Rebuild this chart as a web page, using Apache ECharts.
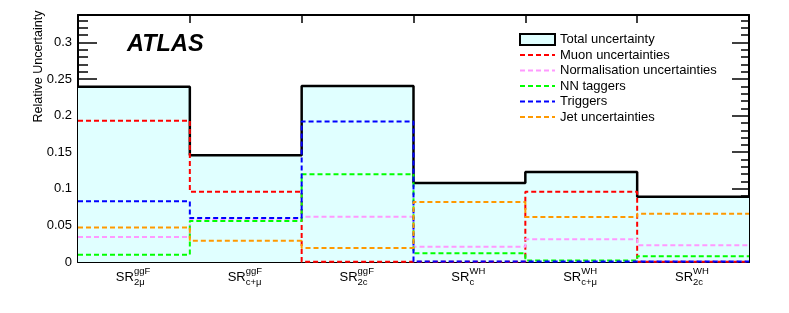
<!DOCTYPE html>
<html>
<head>
<meta charset="utf-8">
<script src="https://cdn.jsdelivr.net/npm/echarts@6/dist/echarts.min.js"></script>
<style>html,body{margin:0;padding:0;background:#fff;}#c{width:789px;height:313px;}</style>
</head>
<body>
<div id="c"></div>
<script>
// ---- data ----
const binBase = ['SR', 'SR', 'SR', 'SR', 'SR', 'SR'];
const binSup = ['ggF', 'ggF', 'ggF', 'WH', 'WH', 'WH'];
const binSub = ['2\u03bc', 'c+\u03bc', '2c', 'c', 'c+\u03bc', '2c'];
const totalUnc = [0.2395, 0.146, 0.2405, 0.108, 0.123, 0.089];
const muonUnc = [0.193, 0.096, 0.0005, 0.0005, 0.096, 0.0005];
const normUnc = [0.034, 0.058, 0.062, 0.021, 0.031, 0.023];
const nnTaggers = [0.010, 0.056, 0.120, 0.012, 0.002, 0.008];
const triggers = [0.083, 0.060, 0.192, 0.0008, 0.0008, 0.0008];
const jetUnc = [0.047, 0.029, 0.019, 0.082, 0.0615, 0.066];
const yTicks = [0, 0.05, 0.1, 0.15, 0.2, 0.25, 0.3];

const FONT = "'Liberation Sans', Arial, Helvetica, sans-serif";

function steps(vals) {
  const pts = vals.map((v, i) => [i, v]);
  pts.push([vals.length, vals[vals.length - 1]]);
  return pts;
}

const dashed = (name, vals, color) => ({
  name, type: 'line', step: 'end', data: steps(vals),
  xAxisIndex: 0, yAxisIndex: 0,
  symbol: 'none', showSymbol: false,
  lineStyle: { color, width: 2, type: [5, 3] },
  itemStyle: { color },
  animation: false
});

const hiddenSym = { color: 'rgba(0,0,0,0)', borderColor: 'rgba(0,0,0,0)', borderWidth: 0 };

const chart = echarts.init(document.getElementById('c'), null, { renderer: 'canvas' });
const yMax = 0.3375;
const option = {
  animation: false,
  backgroundColor: '#ffffff',
  textStyle: { fontFamily: FONT },
  grid: { left: 78, right: 40, top: 15, bottom: 51, containLabel: false },
  title: {
    text: 'ATLAS', left: 127, top: 33, padding: 0,
    textStyle: { fontFamily: FONT, fontStyle: 'italic', fontWeight: 'bold', fontSize: 23.5, color: '#000' }
  },
  legend: {
    orient: 'vertical', left: 519, top: 33, padding: 0,
    itemWidth: 35, itemHeight: 11, itemGap: 2.5,
    textStyle: { fontFamily: FONT, fontSize: 13, color: '#000' },
    data: [
      { name: 'Total uncertainty', icon: 'rect', itemStyle: { color: '#e0ffff', borderColor: '#000', borderWidth: 2 } },
      { name: 'Muon uncertainties', itemStyle: hiddenSym },
      { name: 'Normalisation uncertainties', itemStyle: hiddenSym },
      { name: 'NN taggers', itemStyle: hiddenSym },
      { name: 'Triggers', itemStyle: hiddenSym },
      { name: 'Jet uncertainties', itemStyle: hiddenSym }
    ]
  },
  xAxis: [
    { type: 'value', min: 0, max: 6, interval: 1, position: 'bottom',
      axisLine: { show: true, lineStyle: { color: '#000', width: 2 } },
      axisTick: { show: true, inside: true, length: 5, lineStyle: { color: '#000', width: 1.5 } },
      axisLabel: { show: false }, splitLine: { show: false } },
    { type: 'category', data: binBase, position: 'bottom', boundaryGap: true,
      axisLine: { show: false }, axisTick: { show: false }, splitLine: { show: false },
      axisLabel: { align: 'right', margin: 9, fontSize: 13, fontFamily: FONT, color: '#000', interval: 0 } },
    { type: 'category', data: binSup, position: 'bottom', boundaryGap: true,
      axisLine: { show: false }, axisTick: { show: false }, splitLine: { show: false },
      axisLabel: { align: 'left', margin: 4, fontSize: 9.5, fontFamily: FONT, color: '#000', interval: 0 } },
    { type: 'category', data: binSub, position: 'bottom', boundaryGap: true,
      axisLine: { show: false }, axisTick: { show: false }, splitLine: { show: false },
      axisLabel: { align: 'left', margin: 15, fontSize: 9.5, fontFamily: FONT, color: '#000', interval: 0 } },
    { type: 'value', min: 0, max: 6, interval: 1, position: 'top',
      axisLine: { show: true, lineStyle: { color: '#000', width: 2 } },
      axisTick: { show: true, inside: true, length: 8, lineStyle: { color: '#000', width: 1.5 } },
      axisLabel: { show: false }, splitLine: { show: false } }
  ],
  yAxis: [
    { type: 'value', min: 0, max: yMax, interval: 0.05, position: 'left',
      name: 'Relative Uncertainty', nameLocation: 'middle', nameRotate: 90, nameGap: 33,
      nameMoveOverlap: false,
      nameTextStyle: { fontFamily: FONT, fontSize: 12.5, color: '#000', padding: [0, 0, 0, 144] },
      axisLine: { show: true, lineStyle: { color: '#000', width: 2 } },
      axisTick: { show: true, inside: true, length: 19, lineStyle: { color: '#000', width: 1.5 } },
      axisLabel: { margin: 6, fontSize: 13, fontFamily: FONT, color: '#000', showMaxLabel: false,
        formatter: v => (yTicks.some(t => Math.abs(t - v) < 1e-9) ? String(+v.toFixed(2)) : '') },
      splitLine: { show: false } },
    { type: 'value', min: 0, max: yMax, interval: 0.01, position: 'left',
      axisLine: { show: false },
      axisTick: { show: true, inside: true, length: 10, lineStyle: { color: '#000', width: 1.5 } },
      axisLabel: { show: false }, splitLine: { show: false } },
    { type: 'value', min: 0, max: yMax, interval: 0.05, position: 'right',
      axisLine: { show: true, lineStyle: { color: '#000', width: 2 } },
      axisTick: { show: true, inside: true, length: 17, lineStyle: { color: '#000', width: 1.5 } },
      axisLabel: { show: false }, splitLine: { show: false } },
    { type: 'value', min: 0, max: yMax, interval: 0.01, position: 'right',
      axisLine: { show: false },
      axisTick: { show: true, inside: true, length: 8, lineStyle: { color: '#000', width: 1.5 } },
      axisLabel: { show: false }, splitLine: { show: false } }
  ],
  series: [
    { name: 'Total uncertainty', type: 'line', step: 'end', data: steps(totalUnc),
      xAxisIndex: 0, yAxisIndex: 0, symbol: 'none', showSymbol: false,
      lineStyle: { color: '#000', width: 2.5 },
      itemStyle: { color: '#e0ffff' },
      areaStyle: { color: '#e0ffff', opacity: 1 } },
    dashed('Muon uncertainties', muonUnc, '#ff0000'),
    dashed('Normalisation uncertainties', normUnc, '#ff99ff'),
    dashed('NN taggers', nnTaggers, '#00ff00'),
    dashed('Triggers', triggers, '#0000ff'),
    dashed('Jet uncertainties', jetUnc, '#ff9900')
  ]
};
chart.setOption(option);
</script>
</body>
</html>
